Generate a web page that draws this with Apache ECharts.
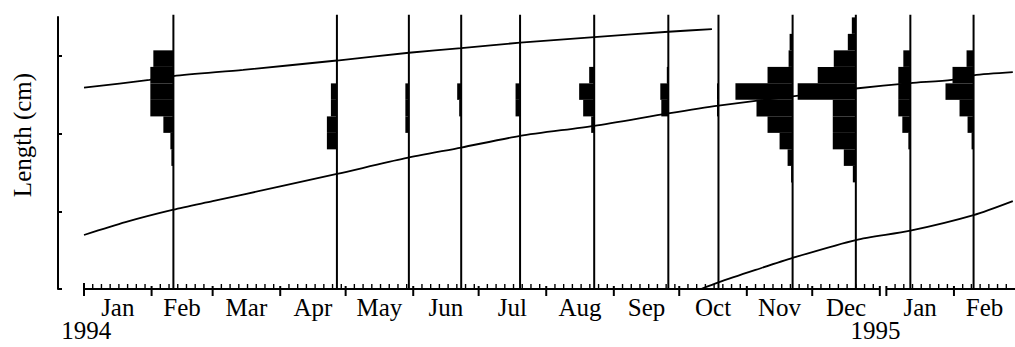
<!DOCTYPE html>
<html>
<head>
<meta charset="utf-8">
<script src="https://cdn.jsdelivr.net/npm/echarts@6/dist/echarts.min.js"></script>
<style>
  html, body { margin: 0; padding: 0; background: #fff; }
  #chart { width: 1015px; height: 347px; }
</style>
</head>
<body>
<div id="chart"></div>
<script>
// ---- data -------------------------------------------------------------

// Dates of the length-frequency samples
const sampleDates = [
  '1994-02-11', '1994-04-27', '1994-05-30', '1994-06-23', '1994-07-20', '1994-08-23',
  '1994-09-26', '1994-10-19', '1994-11-22', '1994-12-21', '1995-01-12', '1995-02-10'
];

// Length class limits (cm), from the largest class down
const classLimits = [34.95, 32.83, 30.71, 28.58, 26.46, 24.34, 22.21, 20.09, 17.97, 15.84, 13.72];

// Frequencies per length class (same order as the classes above), one list per sample
const freqFeb94 = [0, 0, 20, 23, 23, 23, 10, 3, 2, 0];
const freqApr94 = [0, 0, 0, 0, 6, 6, 10, 10, 0, 0];
const freqMay94 = [0, 0, 0, 0, 3.5, 3.5, 3.5, 0, 0, 0];
const freqJun94 = [0, 0, 0, 0, 4, 2, 0, 0, 0, 0];
const freqJul94 = [0, 0, 0, 0, 4.5, 4.5, 0, 0, 0, 0];
const freqAug94 = [0, 0, 0, 5, 15, 11, 3, 0, 0, 0];
const freqSep94 = [0, 0, 0, 1.5, 8, 7, 0, 0, 0, 0];
const freqOct94 = [0, 0, 0, 0, 1.5, 1.5, 0, 0, 0, 0];
const freqNov94 = [0, 3, 4, 25, 57, 36, 25, 13, 5, 1.5];
const freqDec94 = [4, 8, 22, 38, 58, 23, 23, 23, 12, 3];
const freqJan95 = [0, 0, 7, 12, 12, 12, 8, 2, 0, 0];
const freqFeb95 = [0, 0, 7, 21, 28, 14, 6, 2, 0, 0];
const sampleFreqs = [freqFeb94, freqApr94, freqMay94, freqJun94, freqJul94, freqAug94,
                     freqSep94, freqOct94, freqNov94, freqDec94, freqJan95, freqFeb95];

// Fitted growth curves, [date, length cm]
const curveA = [
  ['1994-01-01', 25.9], ['1994-01-31', 26.9], ['1994-02-11', 27.4], ['1994-03-15', 28.2],
  ['1994-04-27', 29.4], ['1994-05-30', 30.4], ['1994-06-23', 31.0], ['1994-07-20', 31.7],
  ['1994-08-23', 32.4], ['1994-09-26', 33.1], ['1994-10-16', 33.45]
];
const curveB = [
  ['1994-01-01', 6.95], ['1994-01-20', 8.6], ['1994-02-11', 10.2], ['1994-03-01', 11.3],
  ['1994-04-01', 13.2], ['1994-04-27', 14.8], ['1994-05-28', 16.8], ['1994-06-23', 18.2],
  ['1994-07-20', 19.7], ['1994-08-23', 21.0], ['1994-09-26', 22.6], ['1994-10-19', 23.6],
  ['1994-11-22', 24.8], ['1994-12-21', 25.8], ['1995-01-12', 26.5], ['1995-01-31', 26.9],
  ['1995-02-10', 27.5], ['1995-02-28', 27.9]
];
const curveC = [
  ['1994-10-11', 0.0], ['1994-10-19', 0.85], ['1994-11-05', 2.45], ['1994-11-22', 4.0],
  ['1994-12-21', 6.3], ['1995-01-12', 7.5], ['1995-02-10', 9.5], ['1995-02-28', 11.3]
];

// Axis text
const monthLabels = ['Jan', 'Feb', 'Mar', 'Apr', 'May', 'Jun', 'Jul', 'Aug', 'Sep', 'Oct', 'Nov', 'Dec', 'Jan', 'Feb'];
const monthYears  = [1994, 1994, 1994, 1994, 1994, 1994, 1994, 1994, 1994, 1994, 1994, 1994, 1995, 1995];
const monthNums   = [1, 2, 3, 4, 5, 6, 7, 8, 9, 10, 11, 12, 1, 2];
const yearLabels  = ['1994', '1995'];
const yearLabelDates = ['1994-01-02', '1994-12-30'];
const lengthTicks = [0, 10, 20, 30];

// ---- time scale: days from 1 Jan 1994, with a short blank break before 1995 ----
const YEAR_GAP = 3;
const ORIGIN = Date.UTC(1994, 0, 1);
function dayOf(y, m, d) {
  let v = (Date.UTC(y, m - 1, d) - ORIGIN) / 864e5;
  if (y > 1994) v += YEAR_GAP;
  return v;
}
function plotDay(s) {
  const [y, m, d] = s.split('-').map(Number);
  return dayOf(y, m, d);
}
const X_MAX = dayOf(1995, 3, 1);
const MINOR_STEP = 4;      // days between small ticks
const FREQ_DAYS = 0.46;    // histogram bar length, days per frequency unit
const LINE_TOP = 35.3;     // top of the sample lines (cm)

const months = monthLabels.map((lab, i) => {
  const y = monthYears[i], m = monthNums[i];
  const len = new Date(Date.UTC(y, m, 0)).getUTCDate();
  return { lab, start: dayOf(y, m, 1), end: dayOf(y, m, len) + 1 };
});
const axisSegments = [
  [dayOf(1994, 1, 1), dayOf(1994, 12, 31) + 1],
  [dayOf(1995, 1, 1), X_MAX]
];

const histRows = [];
sampleDates.forEach((ds, i) => {
  const d = plotDay(ds);
  sampleFreqs[i].forEach((f, k) => {
    if (f > 0) histRows.push([d, classLimits[k + 1], classLimits[k], f]);
  });
});

const toXY = c => c.map(p => [plotDay(p[0]), p[1]]);
const SERIF = '"Liberation Serif", "Times New Roman", serif';
const FONT = '25px ' + SERIF;
const INK = '#000';

// ---- chart ------------------------------------------------------------
const chart = echarts.init(document.getElementById('chart'), null, { renderer: 'svg' });

const curveSeries = [curveA, curveB, curveC].map((c, i) => ({
  name: 'growth ' + (i + 1),
  type: 'line',
  data: toXY(c),
  smooth: 0.25,
  showSymbol: false,
  silent: true,
  z: 4,
  lineStyle: { color: INK, width: 1.8 }
}));

chart.setOption({
  animation: false,
  backgroundColor: '#fff',
  grid: { left: 84, right: 0, top: 17, bottom: 58 },
  xAxis: { type: 'value', min: 0, max: X_MAX, show: false },
  yAxis: {
    type: 'value', min: 0, max: 35, offset: 26,
    axisLine: { show: true, onZero: false, lineStyle: { color: INK, width: 2 } },
    axisTick: { show: true, inside: true, length: 4, customValues: lengthTicks,
                lineStyle: { color: INK, width: 2 } },
    axisLabel: { show: false },
    splitLine: { show: false }
  },
  graphic: [{
    type: 'text', x: 22, y: 135, rotation: Math.PI / 2, silent: true,
    style: { text: 'Length (cm)', font: FONT, fill: INK, align: 'center', verticalAlign: 'middle' }
  }],
  series: [
    // length-frequency histograms, bars drawn to the left of each sample line
    {
      type: 'custom', silent: true, z: 3,
      data: histRows,
      renderItem: (params, api) => {
        const d = api.value(0), lo = api.value(1), hi = api.value(2), f = api.value(3);
        const p1 = api.coord([d - f * FREQ_DAYS, hi]);
        const p2 = api.coord([d, lo]);
        return { type: 'rect', shape: { x: p1[0], y: p1[1], width: p2[0] - p1[0], height: p2[1] - p1[1] },
                 style: { fill: INK } };
      }
    },
    // vertical sample lines
    {
      type: 'custom', silent: true, z: 3,
      data: sampleDates.map(plotDay),
      renderItem: (params, api) => {
        const d = api.value(0);
        const a = api.coord([d, 0]), b = api.coord([d, LINE_TOP]);
        return { type: 'line', shape: { x1: a[0], y1: a[1], x2: b[0], y2: b[1] },
                 style: { stroke: INK, lineWidth: 2 } };
      }
    },
    ...curveSeries,
    // time axis: broken axis line, month ticks, day ticks, month and year labels
    {
      type: 'custom', silent: true, clip: false, z: 5,
      data: [0],
      renderItem: (params, api) => {
        const ch = [];
        const ln = (x1, y1, x2, y2, w) => ch.push({ type: 'line',
          shape: { x1, y1, x2, y2 }, style: { stroke: INK, lineWidth: w } });
        axisSegments.forEach(([a, b]) => {
          const p = api.coord([a, 0]), q = api.coord([b, 0]);
          ln(p[0], p[1], q[0], q[1], 2);
        });
        months.forEach((m, i) => {
          const p = api.coord([m.start, 0]);
          ln(p[0], p[1] - (i === 0 ? 6 : 3), p[0], p[1] + 7, 2);
          for (let t = m.start + MINOR_STEP; t < m.end - 1; t += MINOR_STEP) {
            const q = api.coord([t, 0]);
            ln(q[0], q[1] - 5, q[0], q[1], 1.4);
          }
          if (i === 11) {
            const e = api.coord([m.end, 0]);
            ln(e[0], e[1] - 3, e[0], e[1] + 7, 2);
          }
          const c = api.coord([(m.start + m.end) / 2, 0]);
          ch.push({ type: 'text', x: c[0], y: c[1] + 6,
                    style: { text: m.lab, font: FONT, fill: INK, align: 'center', verticalAlign: 'top' } });
        });
        yearLabels.forEach((yl, i) => {
          const c = api.coord([plotDay(yearLabelDates[i]), 0]);
          ch.push({ type: 'text', x: c[0], y: c[1] + 29,
                    style: { text: yl, font: FONT, fill: INK, align: 'center', verticalAlign: 'top' } });
        });
        return { type: 'group', children: ch };
      }
    }
  ]
});
</script>
</body>
</html>
